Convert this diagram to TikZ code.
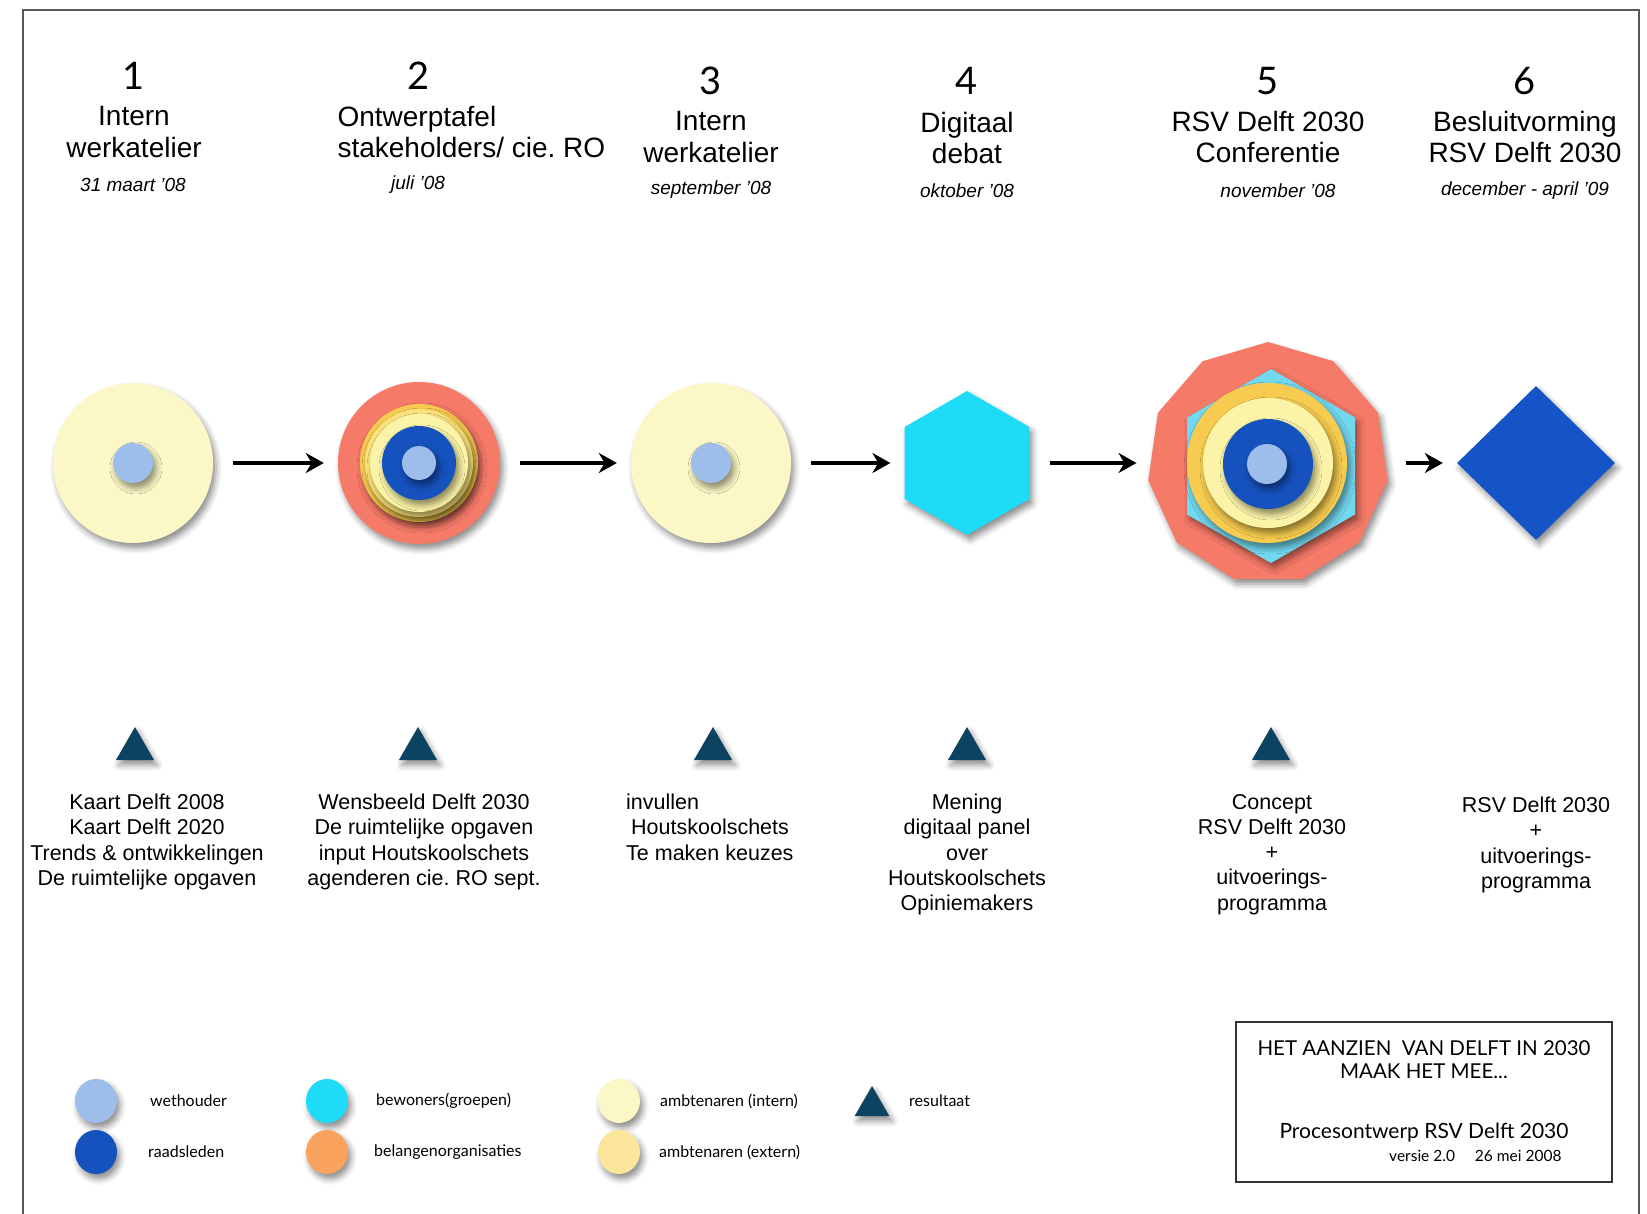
\documentclass[tikz,border=0pt]{standalone}
\usepackage{fontspec}
\setmainfont{Liberation Sans}
\newfontfamily\gillfont{Lato}
\usetikzlibrary{shapes.geometric,arrows.meta,shadows.blur,positioning}
\frenchspacing

\definecolor{koraal}{HTML}{F67A68}
\definecolor{goud}{HTML}{F6CB4F}
\definecolor{halfgoud}{HTML}{F9E27C}
\definecolor{bleekgeel}{HTML}{FBF3A8}
\definecolor{roomgeel}{HTML}{FCF7C6}
\definecolor{blauw}{HTML}{1652BE}
\definecolor{lichtblauw}{HTML}{9DBDEB}
\definecolor{cyaan}{HTML}{1EDBF8}
\definecolor{zachtcyaan}{HTML}{72D8EF}
\definecolor{ruit}{HTML}{1454C6}
\definecolor{nacht}{HTML}{0C4360}
\definecolor{oranje}{HTML}{F9A35E}
\definecolor{extgeel}{HTML}{FCE69C}

\begin{document}
\begin{tikzpicture}[x=1pt,y=-1pt]
\tikzstyle{schaduw}=[blur shadow={shadow xshift=3pt, shadow yshift=-5pt,
  shadow blur radius=6pt, shadow opacity=45}]
\tikzstyle{schijf}=[circle, inner sep=0pt, schaduw]
\tikzstyle{veelhoek}=[regular polygon, inner sep=0pt, schaduw]
\tikzstyle{pijl}=[-{Stealth[length=18pt,width=20pt]}, line width=4.5pt,
  shorten <=20pt, shorten >=14pt]
\tikzstyle{nummer}=[font=\gillfont\fontsize{38}{38}\selectfont]
\tikzstyle{kop}=[align=center, font=\fontsize{28}{31.5}\selectfont]
\tikzstyle{datum}=[font=\fontsize{19}{22}\selectfont\itshape]
\tikzstyle{uitkomst}=[align=center, anchor=north, inner sep=0pt,
  font=\fontsize{21.5}{25.2}\selectfont]
\tikzstyle{driehoek}=[regular polygon, regular polygon sides=3, inner sep=0pt,
  minimum size=44pt, fill=nacht, schaduw]
\tikzstyle{legbol}=[ellipse, inner sep=0pt, minimum width=42pt,
  minimum height=44pt, schaduw]
\tikzstyle{legtekst}=[anchor=west, inner sep=0pt,
  font=\gillfont\fontsize{16}{16}\selectfont]

\useasboundingbox (0,0) rectangle (1647,1214);
\draw[line width=2pt, black!65] (23,1214) -- (23,10) -- (1639,10) -- (1639,1214);

% koppen
\node[nummer] (n1) at (134,76) {1};
\node[nummer] (n2) at (419,76) {2};
\node[nummer] (n3) at (711,81) {3};
\node[nummer] (n4) at (967,81) {4};
\node[nummer] (n5) at (1268,81) {5};
\node[nummer] (n6) at (1525,81) {6};
\node[kop] (k1) at (134,132) {Intern\\werkatelier};
\node[kop, align=left, anchor=west] (k2) at (334,132) {Ontwerptafel\\stakeholders/ cie. RO};
\node[kop] (k3) at (711,137) {Intern\\werkatelier};
\node[kop] (k4) at (967,138) {Digitaal\\debat};
\node[kop] (k5) at (1268,137) {RSV Delft 2030\\Conferentie};
\node[kop] (k6) at (1525,137) {Besluitvorming\\RSV Delft 2030};
\node[datum] (d1) at (133,185) {31 maart '08};
\node[datum] (d2) at (418,185) {juli '08};
\node[datum] (d3) at (711,190) {september '08};
\node[datum] (d4) at (967,191) {oktober '08};
\node[datum] (d5) at (1278,191) {november '08};
\node[datum] (d6) at (1525,191) {december - april '09};

% stappen
\node[schijf, fill=roomgeel, minimum size=160pt] (s1) at (133,463) {};
\node[schijf, fill=lichtblauw, minimum size=40pt] (s1a) at (s1) {};

\node[schijf, fill=koraal, minimum size=162pt] (s2) at (419,463) {};
\node[schijf, fill=goud, minimum size=118pt] (s2a) at (s2) {};
\node[schijf, fill=halfgoud, minimum size=108pt] (s2b) at (s2) {};
\node[schijf, fill=bleekgeel, minimum size=98pt] (s2c) at (s2) {};
\node[schijf, fill=blauw, minimum size=74pt] (s2d) at (s2) {};
\node[schijf, fill=lichtblauw, minimum size=34pt] (s2e) at (s2) {};

\node[schijf, fill=roomgeel, minimum size=160pt] (s3) at (711,463) {};
\node[schijf, fill=lichtblauw, minimum size=40pt] (s3a) at (s3) {};

\node[veelhoek, regular polygon sides=6, shape border rotate=30,
  fill=cyaan, minimum size=144pt] (s4) at (967,463) {};

\node[veelhoek, regular polygon sides=11, fill=koraal, minimum size=242pt] (s5) at (1268,463) {};
\node[veelhoek, regular polygon sides=6, shape border rotate=30,
  fill=zachtcyaan, minimum size=194pt] (s5a) at (1271,466) {};
\node[schijf, fill=goud, minimum size=160pt] (s5b) at (1267,463) {};
\node[schijf, fill=bleekgeel, minimum size=130pt] (s5c) at (1268,463) {};
\node[schijf, fill=blauw, minimum size=90pt] (s5d) at (1268,464) {};
\node[schijf, fill=lichtblauw, minimum size=40pt] (s5e) at (1267,464) {};

\node[diamond, inner sep=0pt, fill=ruit, minimum width=158pt,
  minimum height=154pt, schaduw] (s6) at (1536,463) {};

\draw[pijl] (s1) -- (s2);
\draw[pijl] (s2) -- (s3);
\draw[pijl] (s3) -- (s4);
\draw[pijl] (s4) -- (s5);
\draw[pijl] (s5) -- (s6);

% resultaten
\node[driehoek] (r1) at (135,749) {};
\node[driehoek] (r2) at (418,749) {};
\node[driehoek] (r3) at (713,749) {};
\node[driehoek] (r4) at (967,749) {};
\node[driehoek] (r5) at (1271,749) {};

\node[uitkomst] (u1) at (147,794) {Kaart Delft 2008\\Kaart Delft 2020\\Trends \& ontwikkelingen\\De ruimtelijke opgaven};
\node[uitkomst] (u2) at (424,794) {Wensbeeld Delft 2030\\De ruimtelijke opgaven\\input Houtskoolschets\\agenderen cie. RO sept.};
\node[uitkomst, align=left, anchor=north west] (u3) at (626,794) {invullen\\\hspace*{5pt}Houtskoolschets\\Te maken keuzes};
\node[uitkomst] (u4) at (967,794) {Mening\\digitaal panel\\over\\Houtskoolschets\\Opiniemakers};
\node[uitkomst] (u5) at (1272,794) {Concept\\RSV Delft 2030\\+\\uitvoerings-\\programma};
\node[uitkomst] (u6) at (1536,797) {RSV Delft 2030\\+\\uitvoerings-\\programma};

% legenda
\node[legbol, fill=lichtblauw] (l1) at (96,1101) {};
\node[legbol, fill=blauw] (l2) at (96,1152) {};
\node[legbol, fill=cyaan] (l3) at (327,1101) {};
\node[legbol, fill=oranje] (l4) at (327,1152) {};
\node[legbol, fill=roomgeel] (l5) at (619,1101) {};
\node[legbol, fill=extgeel] (l6) at (619,1152) {};
\node[driehoek, minimum size=40pt] (l7) at (872,1106) {};
\node[legtekst] at (150,1101) {wethouder};
\node[legtekst] at (148,1152) {raadsleden};
\node[legtekst] at (376,1101) {bewoners(groepen)};
\node[legtekst] at (374,1152) {belangenorganisaties};
\node[legtekst] at (660,1101) {ambtenaren (intern)};
\node[legtekst] at (659,1152) {ambtenaren (extern)};
\node[legtekst] at (909,1101) {resultaat};

% titelblok
\node[draw, line width=1.5pt, black!80, minimum width=376pt, minimum height=160pt] (kader) at (1424,1102) {};
\node[align=center, font=\gillfont\fontsize{20.5}{23}\selectfont] (t1) at (1424,1060) {HET AANZIEN\ \ VAN DELFT IN 2030\\MAAK HET MEE...};
\node[font=\gillfont\fontsize{21}{21}\selectfont] (t2) at (1424,1133) {Procesontwerp RSV Delft 2030};
\node[anchor=west, inner sep=0pt, font=\gillfont\fontsize{15.5}{15.5}\selectfont] (t3) at (1389,1156) {versie 2.0\hspace{20pt}26 mei 2008};
\end{tikzpicture}
\end{document}
